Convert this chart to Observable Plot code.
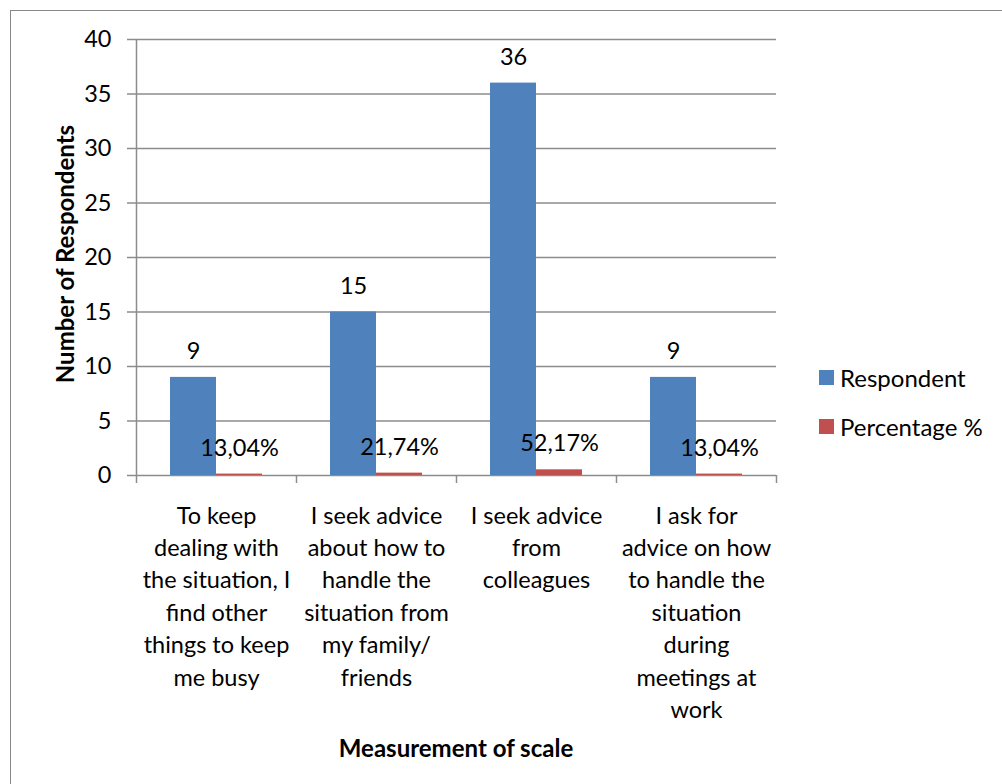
<!DOCTYPE html>
<html>
<head>
<meta charset="utf-8">
<script src="https://cdn.jsdelivr.net/npm/d3@7"></script>
<script src="https://cdn.jsdelivr.net/npm/@observablehq/plot@0.6"></script>
<style>
  html, body { margin: 0; padding: 0; background: #fff; }
  #wrap { position: relative; width: 1002px; height: 784px; overflow: hidden; font-family: Lato, "Open Sans", sans-serif; color: #000; }
  #box { position: absolute; left: 10px; top: 10px; width: 1100px; height: 900px; border: 1.5px solid #888; box-sizing: border-box; }
  #chart { position: absolute; left: 0; top: 0; }
  .ytitle { position: absolute; left: 64px; top: 254px; transform: translate(-50%, -50%) rotate(-90deg); font-weight: bold; font-size: 24px; white-space: nowrap; }
  .xtitle { position: absolute; left: 456px; top: 747px; transform: translate(-50%, -50%); font-weight: bold; font-size: 24px; white-space: nowrap; }
  .legend { position: absolute; left: 819px; font-size: 24px; white-space: nowrap; display: flex; align-items: center; }
  .legend .sw { width: 15px; height: 15px; margin-right: 6px; display: inline-block; }
</style>
</head>
<body>
<div id="wrap">
  <div id="box"></div>
  <div id="chart"></div>
  <div class="ytitle" id="ytitle"></div>
  <div class="xtitle" id="xtitle"></div>
  <div id="legend"></div>
</div>
<script>
// ---- data ----
const categories = [
  "To keep dealing with the situation, I find other things to keep me busy",
  "I seek advice about how to handle the situation from my family/ friends",
  "I seek advice from colleagues",
  "I ask for advice on how to handle the situation during meetings at work"
];
const categoryTickLabels = [
  "To keep\ndealing with\nthe situation, I\nfind other\nthings to keep\nme busy",
  "I seek advice\nabout how to\nhandle the\nsituation from\nmy family/\nfriends",
  "I seek advice\nfrom\ncolleagues",
  "I ask for\nadvice on how\nto handle the\nsituation\nduring\nmeetings at\nwork"
];
const respondents = [9, 15, 36, 9];
const percentages = [0.1304, 0.2174, 0.5217, 0.1304];
const seriesNames = ["Respondent", "Percentage %"];
const seriesColors = ["#4F81BD", "#C0504D"];
const yTicks = [0, 5, 10, 15, 20, 25, 30, 35, 40];
const yTitle = "Number of Respondents";
const xTitle = "Measurement of scale";

// ---- tables ----
const respRows = categories.map((c, i) => ({cat: c, value: respondents[i], label: String(respondents[i])}));
const pctRows = categories.map((c, i) => ({cat: c, value: percentages[i],
  label: (percentages[i] * 100).toFixed(2).replace(".", ",") + "%"}));
const lastCat = categories[categories.length - 1];
const gridColor = "#8c8c8c";
const fs = 23.5;

const chart = Plot.plot({
  width: 1002,
  height: 784,
  marginLeft: 136,
  marginRight: 226,
  marginTop: 39,
  marginBottom: 309,
  style: `font-family: Lato, 'Open Sans', sans-serif; font-size: ${fs}px; color: #000; background: transparent; overflow: visible;`,
  x: {type: "band", domain: categories, padding: 0, axis: null},
  y: {domain: [0, 40], ticks: yTicks, tickSize: 0, tickPadding: 25, label: null, tickFormat: d => String(d)},
  marks: [
    Plot.ruleY(yTicks, {y: d => d, stroke: gridColor, strokeWidth: 1.5, insetLeft: -9}),
    Plot.barY(respRows, {x: "cat", y: "value", fill: seriesColors[0], insetLeft: 34, insetRight: 80}),
    Plot.barY(pctRows, {x: "cat", y: "value", fill: seriesColors[1], insetLeft: 80, insetRight: 34}),
    Plot.ruleX([categories[0]], {x: d => d, dx: -80, y1: 40, y2: 0, insetBottom: -8, stroke: gridColor, strokeWidth: 1.5}),
    Plot.ruleX(categories.slice(1), {x: d => d, dx: -80, y1: 0, y2: 0, insetBottom: -8, stroke: gridColor, strokeWidth: 1.5}),
    Plot.ruleX([lastCat], {x: d => d, dx: 80, y1: 0, y2: 0, insetBottom: -8, stroke: gridColor, strokeWidth: 1.5}),
    Plot.text(respRows, {x: "cat", y: "value", text: "label", dx: -23, dy: -26, fontSize: fs, fill: "#000"}),
    Plot.text(pctRows, {x: "cat", y: "value", text: "label", dx: 23, dy: -26, fontSize: fs, fill: "#000"}),
    Plot.text(categoryTickLabels, {x: (d, i) => categories[i], text: d => d, frameAnchor: "bottom", lineAnchor: "top", dy: 25, lineHeight: 1.38, fontSize: fs, fill: "#000"})
  ]
});
document.getElementById("chart").appendChild(chart);

document.getElementById("ytitle").textContent = yTitle;
document.getElementById("xtitle").textContent = xTitle;
const legend = document.getElementById("legend");
const legendTops = [377, 426];
seriesNames.forEach((name, i) => {
  const row = document.createElement("div");
  row.className = "legend";
  row.style.top = (legendTops[i] - 14) + "px";
  row.style.height = "28px";
  const sw = document.createElement("span");
  sw.className = "sw";
  sw.style.background = seriesColors[i];
  row.appendChild(sw);
  row.appendChild(document.createTextNode(name));
  legend.appendChild(row);
});
</script>
</body>
</html>
